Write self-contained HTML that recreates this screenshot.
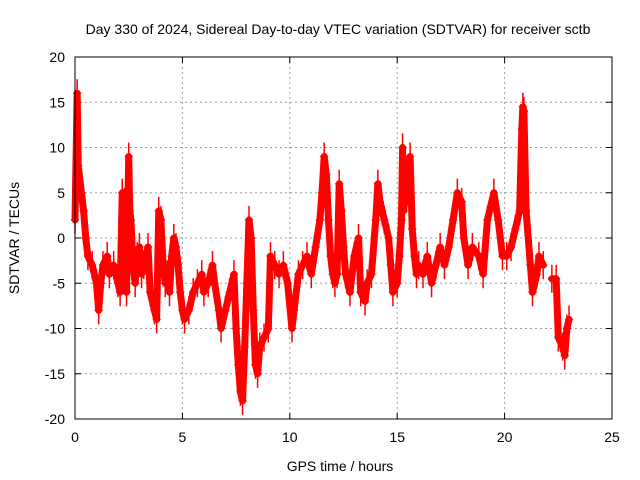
<!DOCTYPE html>
<html><head><meta charset="utf-8"><style>
body{margin:0;background:#fff;}
svg{display:block;font-family:"Liberation Sans",sans-serif;}
</style></head><body>
<svg id="chart" width="640" height="480">
<text x="338" y="34" font-size="14" text-anchor="middle">Day 330 of 2024, Sidereal Day-to-day VTEC variation (SDTVAR) for receiver sctb</text>
<text x="340" y="471" font-size="14" text-anchor="middle">GPS time / hours</text>
<text transform="translate(19,238) rotate(-90)" font-size="14" text-anchor="middle">SDTVAR / TECUs</text>
<g id="grid"></g><g id="ticks"></g><g id="marks"></g>
<rect x="75" y="57" width="537" height="362" fill="none" stroke="#000" stroke-width="1"/>
</svg>
<script>
const xTicks=[0,5,10,15,20,25];
const yTicks=[20,15,10,5,0,-5,-10,-15,-20];
const times=[0,0.1,0.15,0.3,0.4,0.5,0.6,0.8,1.0,1.1,1.2,1.3,1.5,1.6,1.8,2.0,2.1,2.2,2.3,2.4,2.5,2.55,2.6,2.7,2.8,2.9,3.0,3.1,3.2,3.4,3.5,3.7,3.8,3.9,4.0,4.1,4.2,4.3,4.4,4.5,4.6,4.7,4.8,4.9,5.0,5.1,5.3,5.5,5.7,5.9,6.0,6.2,6.4,6.5,6.7,6.8,7.0,7.2,7.4,7.5,7.6,7.7,7.8,7.9,8.0,8.1,8.2,8.3,8.4,8.5,8.6,8.8,9.0,9.1,9.3,9.5,9.7,9.9,10.1,10.2,10.4,10.6,10.8,11.0,11.2,11.4,11.5,11.6,11.7,11.8,11.9,12.0,12.1,12.2,12.3,12.4,12.5,12.6,12.8,13.0,13.2,13.3,13.5,13.6,13.8,14.0,14.1,14.2,14.3,14.4,14.6,14.7,14.8,15.0,15.1,15.2,15.25,15.3,15.5,15.6,15.7,15.8,15.9,16.0,16.2,16.4,16.6,16.8,17.0,17.2,17.4,17.6,17.8,18.0,18.1,18.3,18.5,18.8,19.0,19.2,19.5,19.7,19.9,20.1,20.3,20.5,20.7,20.8,20.85,20.9,21.0,21.2,21.3,21.5,21.6,21.8];
const values=[2,16,8,5,3,0,-2,-3,-5,-8,-5,-3,-2,-4,-3,-5,-6,5,4,-6,9,3,2,-3,-5,-2,-1,-4,-3,-1,-6,-8,-9,3,2,-3,-5,-4,-6,-2,0,-1,-3,-6,-8,-9,-8,-6,-5,-4,-6,-5,-3,-5,-8,-10,-8,-6,-4,-10,-14,-17,-18,-12,-5,2,0,-8,-14,-15,-12,-11,-10,-2,-3,-4,-3,-5,-10,-8,-4,-3,-2,-4,-1,2,5,9,7,2,-2,-4,-5,-4,6,3,-1,-4,-6,-2,0,-6,-7,-5,-4,2,6,4,3,2,0,-3,-6,-5,-2,2,10,3,7,9,1,-2,-4,-3,-4,-2,-5,-3,-1,-3,-1,2,5,4,0,-3,-1,-2,-4,2,5,2,-2,-2,-1,1,3,12,14.5,14,3,-3,-6,-4,-2,-3];
const times2=[22.2,22.4,22.5,22.7,22.8,22.9,23.0];
const values2=[-4.5,-4.5,-11,-12,-13,-10,-9];
const X0=75,X1=612,Y0=419,Y1=57;
const sx=v=>X0+(v-0)/(25-0)*(X1-X0);
const sy=v=>Y0-(v+20)/40*(Y0-Y1);
const NS="http://www.w3.org/2000/svg";
const mk=(t,a,p)=>{const e=document.createElementNS(NS,t);for(const k in a)e.setAttribute(k,a[k]);p.appendChild(e);return e;};
const grid=document.getElementById('grid'),ticks=document.getElementById('ticks'),marks=document.getElementById('marks');
xTicks.forEach(v=>{const x=sx(v);
 if(v>0&&v<25){const g=mk('line',{x1:x,x2:x,y1:Y1,y2:Y0,stroke:'#a0a0a0','stroke-dasharray':'2,3'},grid);
 }
 mk('line',{x1:x,x2:x,y1:Y0,y2:Y0-6,stroke:'#000'},ticks);mk('line',{x1:x,x2:x,y1:Y1,y2:Y1+6,stroke:'#000'},ticks);
 const t=mk('text',{x:x,y:Y0+23,'font-size':14,'text-anchor':'middle'},ticks);t.textContent=v;
 });
yTicks.forEach(v=>{const y=sy(v);
 if(v>-20&&v<20){const g=mk('line',{x1:X0,x2:X1,y1:y,y2:y,stroke:'#a0a0a0','stroke-dasharray':'2,3'},grid);
 }
 mk('line',{x1:X0,x2:X0+6,y1:y,y2:y,stroke:'#000'},ticks);mk('line',{x1:X1,x2:X1-6,y1:y,y2:y,stroke:'#000'},ticks);
 const t=mk('text',{x:X0-10,y:y+5,'font-size':14,'text-anchor':'end'},ticks);t.textContent=v;
 });
function series(ts,vs,name){
 const pl=mk('polyline',{points:ts.map((t,i)=>sx(t)+','+sy(vs[i])).join(' '),fill:'none',stroke:'#ff0000','stroke-width':7,'stroke-linejoin':'round','stroke-linecap':'round'},marks);
 
 ts.forEach((t,i)=>{const x=sx(t),y=sy(vs[i]);
  const p=mk('path',{d:`M${x-4},${y}H${x+4}M${x},${y-14}V${y+14}`,stroke:'#ff0000','stroke-width':1.5},marks);
  });
}
series(times,values,'sdtvar-series');
series(times2,values2,'sdtvar-series-late');
</script>
</body></html>
